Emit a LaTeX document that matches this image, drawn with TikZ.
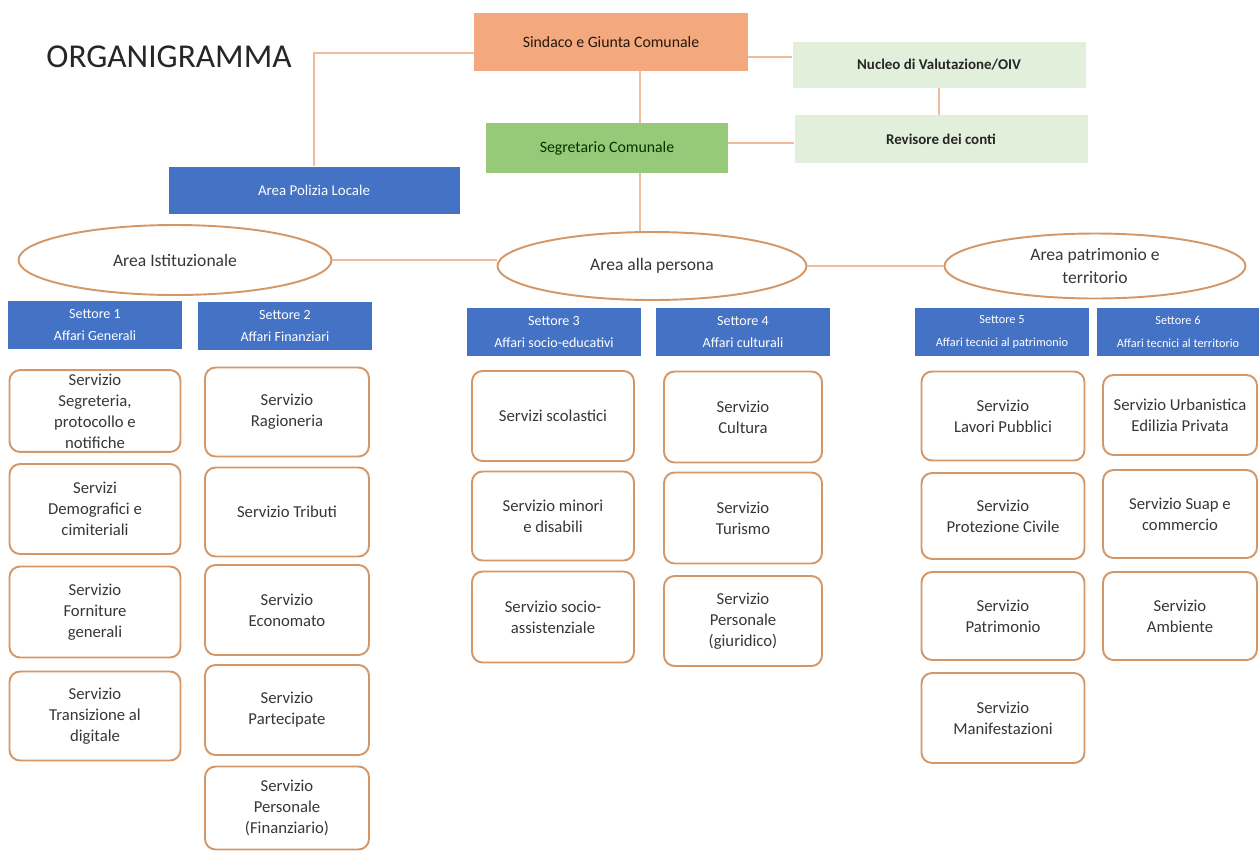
\documentclass[tikz,border=0pt]{standalone}
\usepackage{fontspec}
\setmainfont{Carlito}
\usetikzlibrary{positioning}
\usetikzlibrary{shapes.geometric}
\usetikzlibrary{calc}
\definecolor{sindacoorange}{RGB}{244,168,126}
\definecolor{segretariogreen}{RGB}{150,201,120}
\definecolor{palegreen}{RGB}{226,239,218}
\definecolor{settoreblue}{RGB}{68,114,196}
\definecolor{boxedge}{RGB}{212,152,104}
\definecolor{linkcolor}{RGB}{238,190,156}
\definecolor{textgray}{RGB}{55,55,55}
\def\unitpx{0.02cm}
\tikzstyle{topbox}=[rectangle,inner sep=2pt,align=center,font=\fontsize{9}{11}\selectfont]
\tikzstyle{settorebox}=[rectangle,fill=settoreblue,text=white,inner sep=1pt,align=center,minimum height=48*\unitpx,font=\fontsize{8}{13}\selectfont]
\tikzstyle{servizio}=[rectangle,rounded corners=6pt,draw=boxedge,line width=1.1pt,fill=white,align=center,inner sep=2pt,text=textgray,font=\fontsize{9.5}{12}\selectfont]
\tikzstyle{area}=[ellipse,draw=boxedge,line width=1.1pt,fill=white,inner sep=0pt,align=center,text=textgray,font=\fontsize{10}{13}\selectfont]
\tikzstyle{link}=[draw=linkcolor,line width=1.2pt]

\begin{document}
\begin{tikzpicture}[x=0.02cm, y=-0.02cm]
\useasboundingbox (0,0) rectangle (1259,850);

%Vertici
\node[font=\fontsize{19}{22}\selectfont, text=black!85] (title) at (169,57) {ORGANIGRAMMA};
\node[topbox, fill=sindacoorange, minimum width=274*\unitpx, minimum height=58*\unitpx, text=black!80!brown] (sindaco) at (611,42) {Sindaco e Giunta Comunale};
\node[topbox, fill=segretariogreen, minimum width=242*\unitpx, minimum height=50*\unitpx, text=black!80!green] (segretario) at (607,148) {Segretario Comunale};
\node[topbox, fill=palegreen, minimum width=293*\unitpx, minimum height=46*\unitpx, font=\bfseries\fontsize{8.5}{11}\selectfont, text=black!85] (nucleo) at (939,65) {Nucleo di Valutazione/OIV};
\node[topbox, fill=palegreen, minimum width=293*\unitpx, minimum height=48*\unitpx, font=\bfseries\fontsize{8.5}{11}\selectfont, text=black!85] (revisore) at (941,139) {Revisore dei conti};
\node[topbox, fill=settoreblue, minimum width=291*\unitpx, minimum height=47*\unitpx, font=\fontsize{8.5}{11}\selectfont, text=white] (polizia) at (314,190) {Area Polizia Locale};
\coordinate (spine) at (640,0);
\coordinate (sindacoleft) at ($(sindaco.west)+(0,11)$);
\coordinate (sindacoright) at ($(sindaco.east)+(0,15)$);
\coordinate (segretarioright) at ($(segretario.east)+(0,-5)$);

%Aree
\node[area, minimum width=313*\unitpx, minimum height=70*\unitpx] (istituzionale) at (175,260) {Area Istituzionale};
\node[area, minimum width=309*\unitpx, minimum height=68*\unitpx] (persona) at (652,266) {Area alla persona};
\node[area, minimum width=301*\unitpx, minimum height=65*\unitpx] (patrimonio) at (1095,266) {Area patrimonio e\\territorio};

%Collegamenti
\draw[link] (sindacoleft) -| (polizia.north);
\draw[link] (sindacoright) -- (sindacoright -| nucleo.west);
\draw[link] (sindaco.south -| spine) -- (segretario.north -| spine);
\draw[link] (segretario.south -| spine) -- (persona.north -| spine);
\draw[link] (nucleo.south) -- (nucleo.south |- revisore.north);
\draw[link] (segretarioright) -- (segretarioright -| revisore.west);
\draw[link] (istituzionale.east) -- (istituzionale.east -| persona.west);
\draw[link] (persona.east) -- (patrimonio.west);

%Settori
\foreach \pos/\w/\name/\label in {{(95,325)/174/s1/{Settore 1\\Affari Generali}}, {(285,326)/174/s2/{Settore 2\\Affari Finanziari}}, {(554,332)/174/s3/{Settore 3\\Affari socio-educativi}}, {(743,332)/174/s4/{Settore 4\\Affari culturali}}}
    \node[settorebox, minimum width=\w*\unitpx] (\name) at \pos {\label};
\foreach \pos/\w/\name/\label in {{(1002,332)/174/s5/{Settore 5\\Affari tecnici al patrimonio}}, {(1178,332)/162/s6/{Settore 6\\Affari tecnici al territorio}}}
    \node[settorebox, minimum width=\w*\unitpx, font=\fontsize{7}{13}\selectfont] (\name) at \pos {\label};

%Servizi
\foreach \y/\h/\name/\label in {411/80/a1/{Servizio\\Segreteria,\\protocollo e\\notifiche}, 509/90/a2/{Servizi\\Demografici e\\cimiteriali}, 612/91/a3/{Servizio\\Forniture\\generali}, 716/89/a4/{Servizio\\Transizione al\\digitale}}
    \node[servizio, minimum width=171*\unitpx, minimum height=\h*\unitpx] (\name) at (95,\y) {\label};
\foreach \y/\h/\name/\label in {412/89/b1/{Servizio\\Ragioneria}, 512/89/b2/{Servizio Tributi}, 610/90/b3/{Servizio\\Economato}, 710/90/b4/{Servizio\\Partecipate}, 808/83/b5/{Servizio\\Personale\\(Finanziario)}}
    \node[servizio, minimum width=164*\unitpx, minimum height=\h*\unitpx] (\name) at (287,\y) {\label};
\foreach \y/\h/\name/\label in {416/90/c1/{Servizi scolastici}, 516/89/c2/{Servizio minori\\e disabili}, 617/91/c3/{Servizio socio-\\assistenziale}}
    \node[servizio, minimum width=162*\unitpx, minimum height=\h*\unitpx] (\name) at (553,\y) {\label};
\foreach \y/\h/\name/\label in {417/91/d1/{Servizio\\Cultura}, 518/91/d2/{Servizio\\Turismo}, 621/90/d3/{Servizio\\Personale\\(giuridico)}}
    \node[servizio, minimum width=158*\unitpx, minimum height=\h*\unitpx] (\name) at (743,\y) {\label};
\foreach \y/\h/\name/\label in {416/89/e1/{Servizio\\Lavori Pubblici}, 516/86/e2/{Servizio\\Protezione Civile}, 616/88/e3/{Servizio\\Patrimonio}, 718/90/e4/{Servizio\\Manifestazioni}}
    \node[servizio, minimum width=163*\unitpx, minimum height=\h*\unitpx] (\name) at (1003,\y) {\label};
\foreach \y/\h/\name/\label in {415/80/f1/{Servizio Urbanistica\\Edilizia Privata}, 514/88/f2/{Servizio Suap e\\commercio}, 616/88/f3/{Servizio\\Ambiente}}
    \node[servizio, minimum width=154*\unitpx, minimum height=\h*\unitpx] (\name) at (1180,\y) {\label};

\end{tikzpicture}
\end{document}
